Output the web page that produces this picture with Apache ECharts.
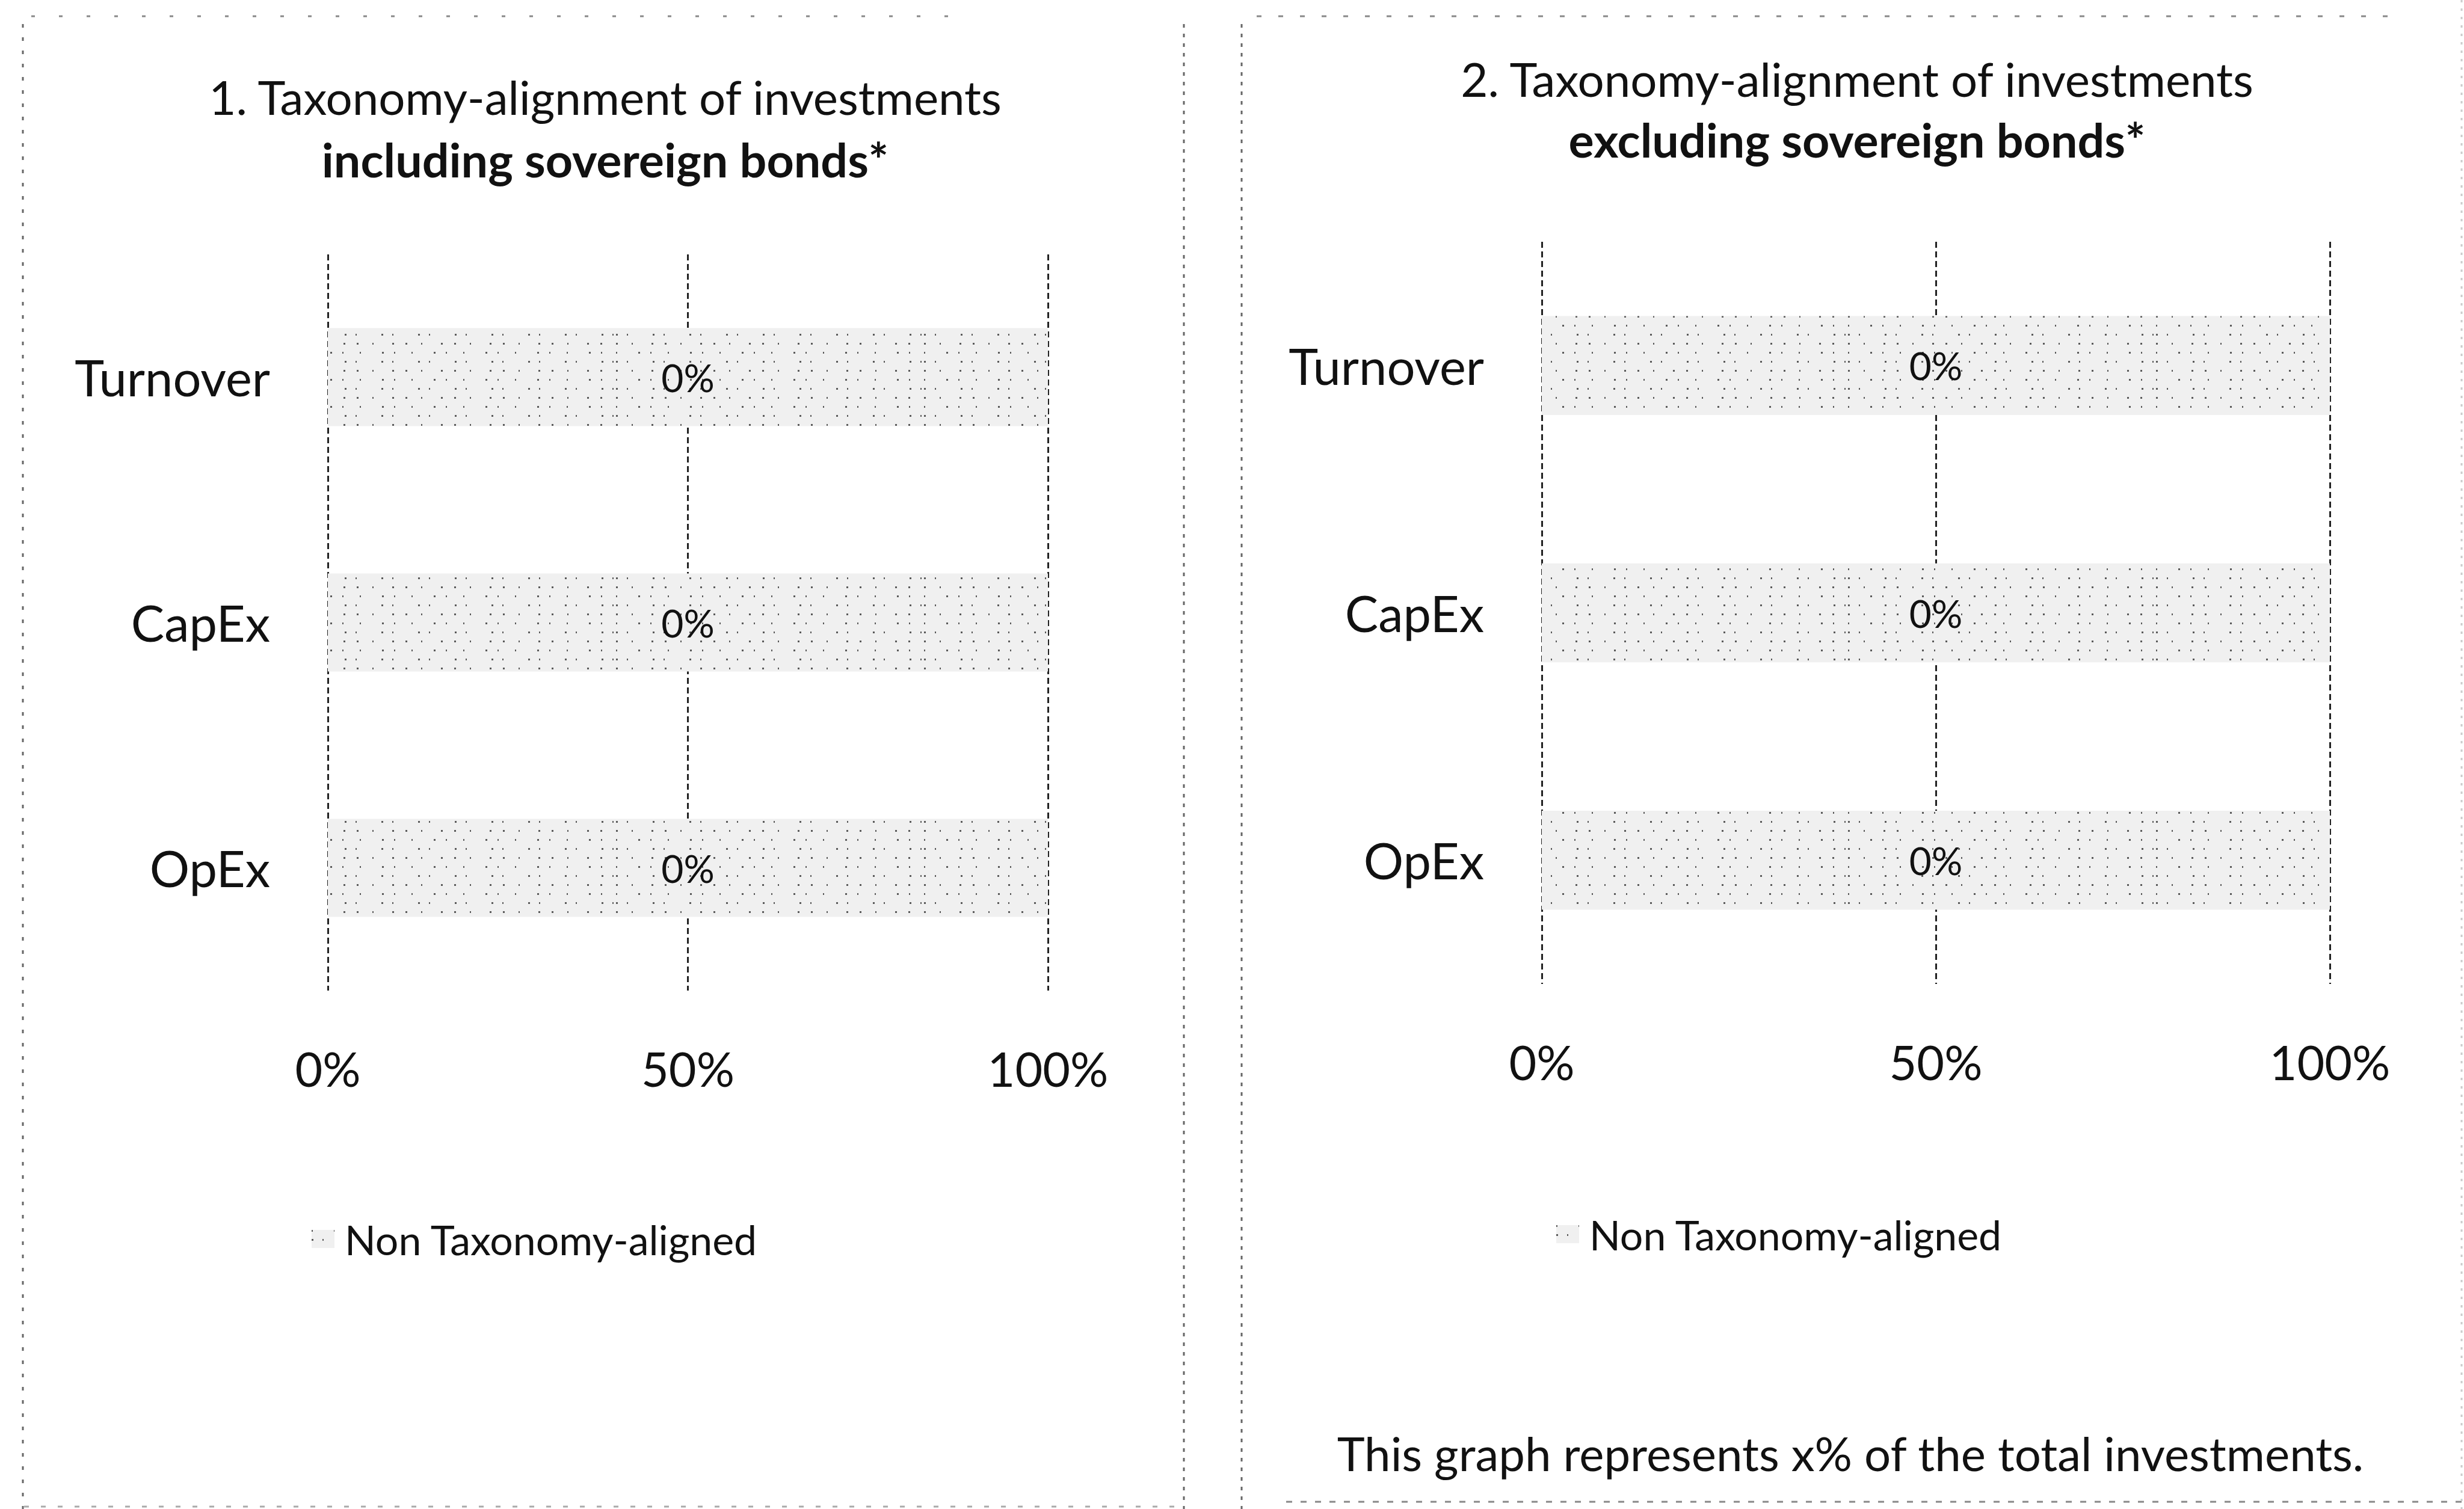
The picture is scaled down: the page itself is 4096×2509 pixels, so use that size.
<!DOCTYPE html>
<html>
<head>
<meta charset="utf-8">
<script src="https://cdn.jsdelivr.net/npm/echarts@6/dist/echarts.min.js"></script>
<style>
html,body{margin:0;padding:0;background:#fff;}
#chart{width:4096px;height:2509px;}
</style>
</head>
<body>
<div id="chart"></div>
<script>
// ---- data ----
const categories = ['Turnover', 'CapEx', 'OpEx'];
const nonAlignedIncl = [100, 100, 100];   // chart 1: Non Taxonomy-aligned (%)
const alignedIncl = [0, 0, 0];            // chart 1: Taxonomy-aligned (%) shown as label
const nonAlignedExcl = [100, 100, 100];   // chart 2
const alignedExcl = [0, 0, 0];            // chart 2
const axisTicks = [0, 50, 100];           // x-axis ticks (%)
const legendName = 'Non Taxonomy-aligned';
const title1 = ['1. Taxonomy-alignment of investments', 'including sovereign bonds*'];
const title2 = ['2. Taxonomy-alignment of investments', 'excluding sovereign bonds*'];
const footer = 'This graph represents x% of the total investments.';

// ---- styles ----
const FONT = 'Lato';
const TXT = '#111';
const barDecal = {
  symbol: 'rect',
  symbolSize: 1,
  color: 'rgba(25,25,25,0.7)',
  dashArrayX: [[3, 23, 2, 31, 3, 19], [2, 35, 3, 17, 2, 27], [3, 15, 2, 41]],
  dashArrayY: [3, 12],
  rotation: 0,
  maxTileWidth: 512,
  maxTileHeight: 512
};
const gridLine = { color: '#222', width: 3, type: [10, 6] };

function xAxisFor(gridIndex) {
  return {
    type: 'value', gridIndex: gridIndex,
    min: axisTicks[0], max: axisTicks[axisTicks.length - 1],
    interval: axisTicks[1] - axisTicks[0],
    axisLine: { show: false }, axisTick: { show: false },
    splitLine: { show: true, lineStyle: gridLine },
    axisLabel: { formatter: '{value}%', fontFamily: FONT, fontSize: 79, color: TXT, margin: 90 }
  };
}
function yAxisFor(gridIndex) {
  return {
    type: 'category', gridIndex: gridIndex, data: categories, inverse: true,
    axisLine: { show: false }, axisTick: { show: false }, splitLine: { show: false },
    axisLabel: { fontFamily: FONT, fontSize: 83, color: TXT, margin: 96 }
  };
}
function barSeries(idx, values, labels) {
  return {
    name: legendName, type: 'bar', xAxisIndex: idx, yAxisIndex: idx,
    data: values, barWidth: '40%',
    itemStyle: { color: '#f0f0f0', decal: barDecal },
    label: {
      show: true, position: 'inside', color: TXT, fontFamily: FONT, fontSize: 64,
      formatter: function (p) { return labels[p.dataIndex] + '%'; }
    },
    emphasis: { disabled: true }
  };
}
function legendFor(idx, left, top) {
  return {
    left: left, top: top, padding: 0, itemWidth: 38, itemHeight: 30, icon: 'rect',
    data: [legendName], selectedMode: false,
    textStyle: { fontFamily: FONT, fontSize: 68, color: TXT, padding: [0, 0, 0, 12] }
  };
}
function txt(text, x, y, size, weight) {
  return { type: 'text', x: x, y: y, silent: true,
    style: { text: text, fontFamily: FONT, fontSize: size, fontWeight: weight || 'normal',
      fill: TXT, align: 'center', verticalAlign: 'middle' } };
}
function dashLine(x1, y1, x2, y2, dash, color) {
  return { type: 'line', silent: true, shape: { x1: x1, y1: y1, x2: x2, y2: y2 },
    style: { stroke: color || '#666', lineWidth: 3, lineDash: dash } };
}

const chart = echarts.init(document.getElementById('chart'), null, { renderer: 'svg', width: 4096, height: 2509 });
chart.setOption({
  backgroundColor: '#ffffff',
  animation: false,
  grid: [
    { left: 545, top: 423, width: 1197, height: 1224, containLabel: false },
    { left: 2563, top: 402, width: 1310, height: 1234, containLabel: false }
  ],
  xAxis: [xAxisFor(0), xAxisFor(1)],
  yAxis: [yAxisFor(0), yAxisFor(1)],
  series: [barSeries(0, nonAlignedIncl, alignedIncl), barSeries(1, nonAlignedExcl, alignedExcl)],
  legend: [legendFor(0, 518, 2026), legendFor(1, 2587, 2018)],
  graphic: [
    txt(title1[0], 1006, 161, 78),
    txt(title1[1], 1006, 264, 79, 'bold'),
    txt(title2[0], 3087, 131, 78),
    txt(title2[1], 3087, 231, 79, 'bold'),
    txt(footer, 3076, 2416, 78),
    dashLine(38, 40, 38, 2509, [6, 16]),
    dashLine(1968, 40, 1968, 2509, [6, 10]),
    dashLine(2064, 40, 2064, 2509, [6, 10]),
    dashLine(52, 27, 1607, 27, [6, 40], '#888'),
    dashLine(2089, 27, 3997, 27, [8, 28], '#888'),
    dashLine(2138, 2497, 4096, 2497, [10, 14], '#888'),
    dashLine(40, 2505, 1960, 2505, [8, 20], '#aaa'),
    dashLine(4092, 0, 4092, 2509, [4, 10], '#ccc')
  ]
});
</script>
</body>
</html>
